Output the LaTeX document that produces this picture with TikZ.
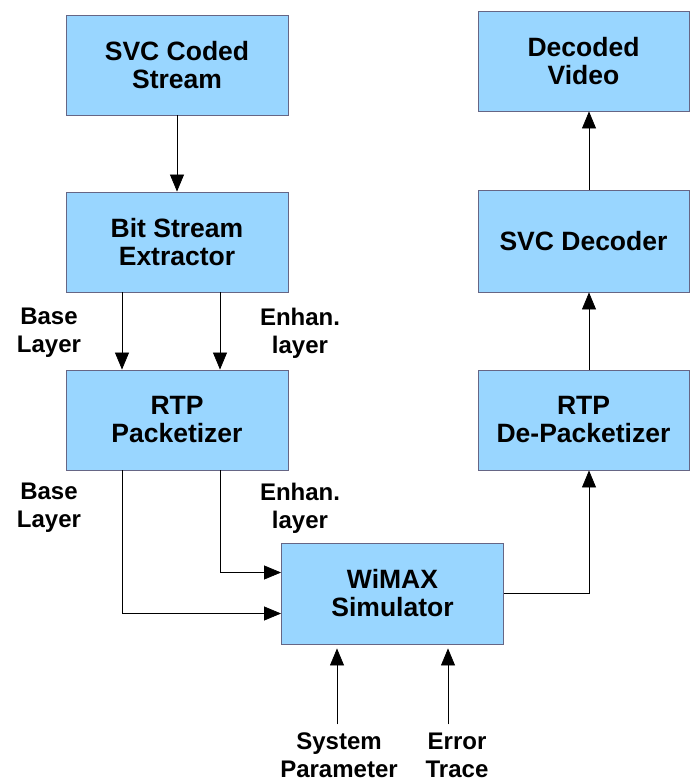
\documentclass[tikz,border=0pt]{standalone}
\usepackage{fontspec}
\setmainfont{Liberation Sans}
\usetikzlibrary{arrows.meta}
\begin{document}
\begin{tikzpicture}[x=1pt,y=-1pt,
    block/.style={draw=black!80!blue!60,fill=blue!40!cyan!40!white,line width=0.9pt,
      minimum width=222pt,minimum height=100pt,inner sep=0pt,align=center,
      font=\fontsize{26.5}{28}\selectfont\bfseries},
    lbl/.style={align=center,inner sep=0pt,font=\fontsize{24}{28}\selectfont\bfseries},
    arr/.style={-{Triangle[length=17pt,width=14pt]},line width=0.7pt}]
      \useasboundingbox (0,0) rectangle (691,781);
      \node[block] (svc)  at (177,  65)	{SVC Coded\\Stream};
      \node[block] (bse)  at (177, 242)	{Bit Stream\\Extractor};
      \node[block] (rtp)  at (177, 420)	{RTP\\Packetizer};
      \node[block,minimum width=211pt] (dv)   at (583.5, 61)	{Decoded\\Video};
      \node[block,minimum width=211pt,minimum height=102pt] (dec)  at (583.5,241)	{SVC Decoder};
      \node[block,minimum width=211pt] (drtp) at (583.5,420)	{RTP\\De-Packetizer};
      \node[block,minimum height=101pt] (wmx)  at (392.5,593.5)	{WiMAX\\Simulator};
      %
      \node[lbl] (bl1) at (49, 333)	{Base\\Layer};
      \node[lbl] (el1) at (300,333)	{Enhan.\\layer};
      \node[lbl] (bl2) at (49, 508)	{Base\\Layer};
      \node[lbl] (el2) at (300,508)	{Enhan.\\layer};
      \node[lbl] (sp)  at (339,755)	{System\\Parameter};
      \node[lbl] (et)  at (457,755)	{Error\\Trace};
      %
      \draw[arr] (svc) -- (bse);
      \def\list {-55, 43}  % base and enhancement
      \foreach \dx in \list
      {	\draw[arr] ([xshift=\dx pt]bse.south) -- ([xshift=\dx pt]rtp.north);
      }
      \draw[arr] ([xshift=-55pt]rtp.south) |- ([yshift=-20pt]wmx.west);
      \draw[arr] ([xshift=43pt]rtp.south) |- ([yshift=21pt]wmx.west);
      \draw[arr] (wmx.east) -| ([xshift=5.5pt]drtp.south);
      \def\list {drtp/dec, dec/dv}
      \foreach \u\v in \list
      {	\draw[arr] ([xshift=5.5pt]\u.north) -- ([xshift=5.5pt]\v.south);
      }
      \draw[arr,shorten >=4pt] ([xshift=-2pt]sp.north) ++(0,-8) -- ([xshift=-2pt]sp.north |- wmx.south);
      \draw[arr,shorten >=4pt] ([xshift=-9pt]et.north) ++(0,-8) -- ([xshift=-9pt]et.north |- wmx.south);
\end{tikzpicture}
\end{document}
